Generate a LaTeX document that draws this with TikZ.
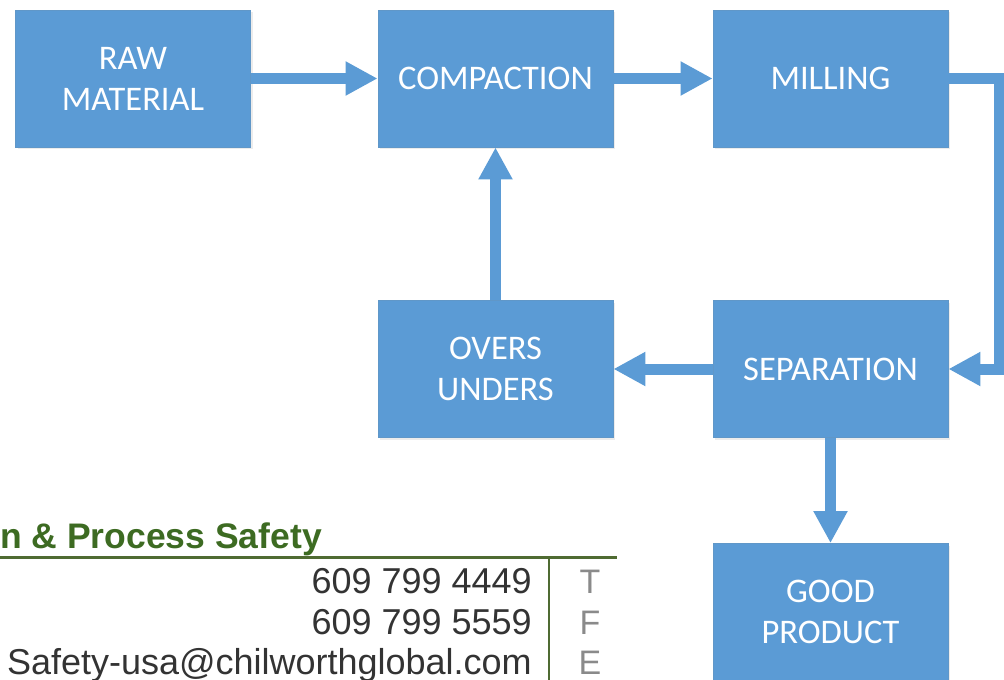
\documentclass[tikz,border=0pt]{standalone}
\usepackage{fontspec}
\setmainfont{Carlito}
\newfontfamily\arialf{Liberation Sans}
\usetikzlibrary{arrows.meta,shadows}
\definecolor{boxblue}{HTML}{5B9BD5}
\definecolor{hdrgreen}{HTML}{3D6B22}
\definecolor{linegreen}{HTML}{4F6B32}
\definecolor{numgray}{HTML}{333333}
\definecolor{lettergray}{HTML}{8A8A8A}
\tikzset{
  procbox/.style={fill=boxblue, draw=boxblue!85!gray, line width=0.8pt,
    minimum width=235pt, minimum height=137pt, inner sep=0pt,
    align=center, text=white,
    font=\fontsize{34.5}{41}\selectfont,
    drop shadow={shadow xshift=2pt, shadow yshift=-2pt, opacity=0.15}},
  flow/.style={draw=boxblue, line width=11pt, line join=miter,
    -{Triangle[length=32pt,width=32pt]}},
  numtext/.style={anchor=base east, text=numgray, inner sep=0pt,
    font=\arialf\fontsize{36}{36}\selectfont},
  lettext/.style={anchor=base, text=lettergray, inner sep=0pt,
    font=\arialf\fontsize{34}{34}\selectfont}
}
\begin{document}
\begin{tikzpicture}[x=1pt,y=-1pt]
\useasboundingbox (0,0) rectangle (1004,680);
\node[procbox] (raw)  at (133,78.5)   {RAW\\MATERIAL};
\node[procbox] (comp) at (495.5,78.5) {COMPACTION};
\node[procbox] (mill) at (830.5,78.5) {MILLING};
\node[procbox] (over) at (495.5,369)  {OVERS\\UNDERS};
\node[procbox] (sep)  at (830.5,369)  {SEPARATION};
\node[procbox] (good) at (830.5,612)  {GOOD\\PRODUCT};
\coordinate (c1) at (999,78.5);
\coordinate (c2) at (999,369);
\draw[flow] (raw.east) -- (comp.west);
\draw[flow] (comp.east) -- (mill.west);
\draw[flow] (mill.east) -- (c1) -- (c2) -- (sep.east);
\draw[flow] (sep.west) -- (over.east);
\draw[flow] (over.north) -- (comp.south);
\draw[flow] (sep.south) -- (good.north);
% contact block
\node[anchor=base east, inner sep=0pt, text=hdrgreen,
  font=\arialf\bfseries\fontsize{35.5}{35.5}\selectfont] (hdr) at (322,548) {n \& Process Safety};
\coordinate (l1) at (0,557);
\coordinate (l2) at (617,557);
\coordinate (v1) at (549,557);
\coordinate (v2) at (549,680);
\draw[linegreen, line width=3pt] (l1) -- (l2);
\draw[linegreen, line width=2pt] (v1) -- (v2);
\node[numtext] (n1) at (532,593) {609 799 4449};
\node[numtext] (n2) at (532,634) {609 799 5559};
\node[numtext] (n3) at (532,674) {Safety-usa@chilworthglobal.com};
\node[lettext] (t1) at (590,593) {T};
\node[lettext] (t2) at (590,634) {F};
\node[lettext] (t3) at (590,674) {E};
\end{tikzpicture}
\end{document}
